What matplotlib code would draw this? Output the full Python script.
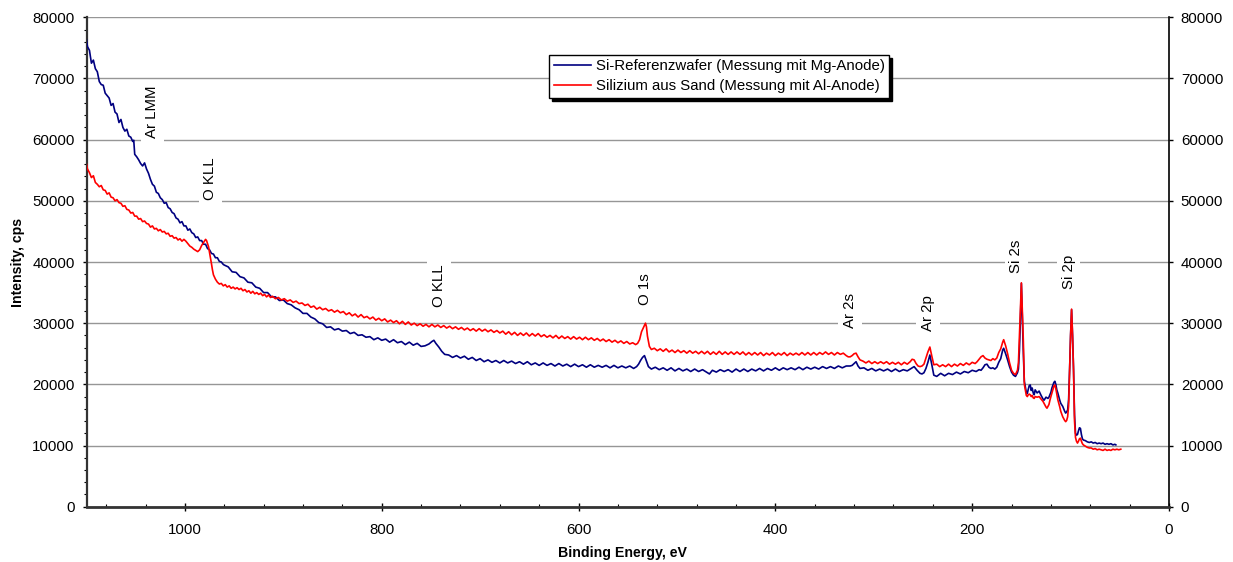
import matplotlib
matplotlib.use("Agg")
import matplotlib.pyplot as plt
from matplotlib.ticker import MultipleLocator

plt.rcParams['font.family'] = ['Liberation Sans', 'DejaVu Sans']

# ---------------- Si-Referenzwafer (Mg anode): binding energy (eV) / intensity (cps)
blue_ev_a = [1100, 1099, 1097, 1095, 1093, 1091, 1089, 1087, 1085, 1083, 1081, 1079, 1077, 1075,
             1073, 1071, 1069, 1067, 1065, 1063, 1061, 1059, 1057, 1055, 1053, 1052, 1051, 1049,
             1047, 1045, 1043, 1041, 1039, 1037, 1035, 1033, 1031, 1029, 1027, 1025, 1023, 1021,
             1019, 1017, 1015, 1013, 1011, 1009, 1007, 1005, 1003, 1001, 999, 997, 995, 993, 991,
             989, 987, 985, 983, 981, 979, 977, 975, 973, 971, 969, 967, 965, 963, 961]
blue_cps_a = [76300, 75200, 74600, 72500, 73000, 71600, 71100, 69500, 69000, 68900, 67600, 67200,
              66800, 65600, 65900, 64500, 64200, 62800, 63300, 62000, 61400, 61700, 60600, 60400,
              59700, 59900, 57600, 57200, 56700, 56100, 55700, 56200, 55200, 54500, 53500, 52700,
              52400, 51400, 51200, 50500, 50200, 49600, 49700, 48900, 48700, 48100, 47900, 47200,
              47000, 46400, 46600, 45900, 45900, 45200, 45400, 44800, 44600, 44000, 44100, 43500,
              43500, 42900, 42900, 42200, 42000, 41400, 41300, 40700, 40700, 40100, 40000, 39600]

blue_ev_b = [960, 956, 952, 948, 944, 940, 936, 932, 928, 924, 920, 916, 912, 908, 904, 900, 896,
             892, 888, 884, 880, 876, 872, 868, 864, 860, 856, 852, 848, 844, 840, 836, 832, 828,
             824, 820, 816, 812, 808, 804, 800, 796, 792, 788, 784, 780, 776, 772, 768, 764, 760,
             756, 752, 749, 747, 745, 742, 739, 736, 732, 728, 724, 720, 716, 712, 708, 704, 700,
             696, 692, 688, 684, 680, 676, 672, 668, 664, 660, 656, 652, 648, 644, 640, 636, 632,
             628, 624, 620, 616, 612, 608, 604, 600, 596, 592, 588, 584, 580, 576, 572, 568, 564,
             560, 556, 552, 548, 544]
blue_cps_b = [39500, 39200, 38400, 38300, 37600, 37400, 36700, 36600, 35900, 35700, 35000, 35000,
              34300, 34300, 33700, 33800, 33200, 33000, 32500, 32200, 31600, 31600, 31000, 30700,
              30100, 29900, 29300, 29400, 28900, 29100, 28700, 28800, 28300, 28500, 28000, 28100,
              27700, 27800, 27300, 27600, 27200, 27400, 26900, 27300, 26800, 27000, 26500, 26900,
              26400, 26700, 26200, 26300, 26600, 27000, 27200, 26700, 26100, 25400, 24900, 24800,
              24400, 24700, 24300, 24600, 24100, 24400, 23900, 24200, 23700, 24000, 23600, 23900,
              23500, 23900, 23500, 23800, 23400, 23700, 23300, 23700, 23200, 23500, 23100, 23500,
              23100, 23400, 23000, 23400, 23000, 23300, 22900, 23300, 22900, 23200, 22800, 23200,
              22800, 23100, 22800, 23100, 22700, 23100, 22700, 23000, 22700, 23000, 22600]

blue_ev_c = [541, 539, 537, 535, 533, 531, 529, 526, 522, 518, 514, 510, 506, 502, 498, 494, 490,
             486, 482, 478, 474, 470, 467, 464, 460, 456, 452, 448, 444, 440, 436, 432, 428, 424,
             420, 416, 412, 408, 404, 400, 396, 392, 388, 384, 380, 376, 372, 368, 364, 360, 356,
             352, 348, 344, 340, 336, 332, 328, 324, 322, 320, 318, 316, 314, 310, 306, 302, 298,
             294, 290, 286, 282, 278, 274, 270, 266, 262, 259, 256, 253, 251, 249, 247, 245, 243,
             241, 239, 236, 232, 228, 224, 220, 216, 212, 208, 204, 200]
blue_cps_c = [22900, 23300, 23900, 24400, 24700, 23800, 22900, 22500, 22800, 22400, 22700, 22300,
              22700, 22200, 22600, 22200, 22500, 22100, 22500, 22100, 22400, 22000, 21700, 22300,
              22000, 22400, 22100, 22400, 22000, 22500, 22100, 22500, 22100, 22500, 22200, 22600,
              22200, 22600, 22300, 22700, 22300, 22700, 22400, 22700, 22400, 22800, 22400, 22800,
              22500, 22800, 22500, 22900, 22600, 22900, 22600, 23000, 22700, 23000, 23000, 23100,
              23400, 23700, 23000, 22600, 22700, 22300, 22600, 22200, 22500, 22200, 22500, 22100,
              22500, 22100, 22400, 22200, 22600, 22900, 22300, 21800, 21700, 21900, 22600, 23600,
              24800, 23200, 21500, 21300, 21800, 21400, 21800, 21600, 22000, 21700, 22100, 21900,
              22300]

blue_ev_d = [196, 193, 191, 189, 187, 185, 183, 181, 179, 177, 175, 173, 171, 169, 168, 166, 164,
             162, 160, 158, 156, 154, 153, 152, 151, 150, 149, 148, 147, 146, 145, 144, 143, 142,
             141, 140, 139, 138, 137, 136, 134, 132, 130, 128, 127, 125, 123, 122, 120, 119, 117,
             116, 115, 114, 113, 111, 110, 108, 106, 105, 104, 103, 102, 101, 100, 99, 98, 97, 96,
             95, 94, 93, 92, 91, 90, 89, 88, 87, 85, 83, 81, 79, 77, 75, 73, 71, 69, 67, 65, 63,
             61, 59, 57, 55, 54]
blue_cps_d = [22100, 22400, 22300, 22700, 23200, 23300, 22800, 22600, 22700, 22500, 22800, 23600,
              24200, 25600, 25900, 25000, 24000, 22900, 22000, 21500, 21300, 21900, 22500, 25500,
              30500, 36500, 30500, 25000, 20500, 19600, 18700, 18500, 19200, 19800, 19900, 19000,
              19400, 18600, 18300, 19100, 18600, 18900, 18200, 17600, 17400, 17900, 17700, 17900,
              18700, 19400, 20300, 20500, 20000, 19100, 18600, 17400, 16900, 16400, 15600, 15300,
              15500, 15800, 17500, 22400, 28000, 32200, 28000, 22400, 15000, 12000, 11700, 11800,
              12400, 12900, 12800, 11800, 11100, 10900, 10800, 10600, 10500, 10600, 10400, 10500,
              10300, 10400, 10300, 10400, 10200, 10300, 10200, 10300, 10100, 10200, 10100]

# ---------------- Silizium aus Sand (Al anode)
red_ev_a = [1100, 1099, 1097, 1095, 1093, 1091, 1089, 1087, 1085, 1083, 1081, 1079, 1077, 1075,
            1073, 1071, 1069, 1067, 1065, 1063, 1061, 1059, 1057, 1055, 1053, 1051, 1049, 1047,
            1045, 1043, 1041, 1039, 1037, 1035, 1033, 1031, 1029, 1027, 1025, 1023, 1021, 1019,
            1017, 1015, 1013, 1011, 1009, 1007, 1005, 1003, 1001, 999, 997, 995, 993, 991, 989,
            987, 985, 983, 981, 979, 978, 976, 975, 974, 973, 972, 971, 969, 967, 965, 963, 961,
            959, 957, 955, 953, 951, 949, 947, 945, 943, 941, 939, 937, 935, 933, 931, 929, 927,
            925, 923, 921, 919, 917, 915, 913, 911]
red_cps_a = [56000, 55200, 54600, 53800, 54100, 53000, 52700, 52300, 52500, 51800, 51700, 51100,
             51300, 50600, 50500, 50000, 50200, 49700, 49600, 49100, 49200, 48600, 48500, 48000,
             48100, 47500, 47500, 47000, 47100, 46600, 46700, 46300, 46200, 45700, 45900, 45400,
             45500, 45100, 45300, 44900, 45000, 44600, 44700, 44200, 44300, 43900, 44000, 43600,
             43800, 43400, 43700, 43400, 43000, 42600, 42400, 42100, 41900, 41700, 42000, 42700,
             43200, 43700, 43500, 42500, 41600, 40800, 39700, 38700, 37900, 37200, 36700, 36400,
             36500, 36100, 36300, 35900, 36100, 35700, 35900, 35600, 35800, 35500, 35700, 35300,
             35500, 35100, 35300, 34900, 35200, 34800, 35000, 34700, 34900, 34500, 34700, 34300,
             34600, 34200, 34400]

red_ev_b = [908, 905, 902, 899, 896, 893, 890, 887, 884, 881, 878, 875, 872, 869, 866, 863, 860,
            857, 854, 851, 848, 845, 842, 839, 836, 833, 830, 827, 824, 821, 818, 815, 812, 809,
            806, 803, 800, 797, 794, 791, 788, 785, 782, 779, 776, 773, 770, 767, 764, 761, 758,
            755, 752, 749, 746, 743, 740, 737, 734, 731, 728, 725, 722, 719, 716, 713, 710, 707,
            704, 701, 698, 695, 692, 689, 686, 683, 680, 677, 674, 671, 668, 665, 662, 659, 656,
            653, 650, 647, 644, 641, 638, 635, 632, 629, 626, 623, 620, 617, 614, 611, 608, 605,
            602, 599, 596, 593, 590, 587, 584, 581, 578, 575, 572, 569, 566, 563, 560, 557, 554,
            551, 548, 545, 542]
red_cps_b = [34000, 34200, 33800, 34000, 33600, 33800, 33400, 33600, 33200, 33300, 32900, 33100,
             32600, 32800, 32300, 32600, 32200, 32400, 32000, 32200, 31800, 32100, 31700, 31900,
             31400, 31700, 31200, 31500, 31000, 31400, 30900, 31100, 30700, 31000, 30500, 30800,
             30400, 30700, 30200, 30500, 30100, 30400, 29900, 30300, 29800, 30200, 29700, 30000,
             29600, 29900, 29500, 29800, 29400, 29800, 29400, 29700, 29300, 29600, 29200, 29500,
             29100, 29400, 29000, 29300, 28900, 29200, 28800, 29100, 28700, 29100, 28700, 29000,
             28600, 28900, 28500, 28800, 28400, 28700, 28200, 28600, 28100, 28500, 28000, 28400,
             28000, 28400, 27900, 28300, 27900, 28300, 27800, 28100, 27700, 28000, 27600, 28000,
             27500, 27900, 27500, 27800, 27400, 27800, 27400, 27700, 27300, 27700, 27300, 27600,
             27200, 27500, 27100, 27400, 27000, 27300, 26900, 27200, 26800, 27100, 26700, 27000,
             26600, 26800, 26500]

red_ev_c = [540, 538, 536, 534, 532, 531, 530, 528, 526, 523, 520, 517, 514, 511, 508, 505, 502,
            499, 496, 493, 490, 487, 484, 481, 478, 475, 472, 469, 466, 463, 460, 457, 454, 451,
            448, 445, 442, 439, 436, 433, 430, 427, 424, 421, 418, 415, 412, 409, 406, 403, 400,
            397, 394, 391, 388, 385, 382, 379, 376, 373, 370, 367, 364, 361, 358, 355, 352, 349,
            346, 343, 340, 337, 334, 331, 328, 326, 324, 322, 320, 318, 316, 314, 311, 308, 305,
            302, 299, 296, 293, 290, 287, 284, 281, 278, 275, 272, 269, 266, 263, 261, 259, 257,
            255, 253, 251, 249, 247, 245, 243, 241, 239, 236, 233, 230, 227, 224, 221, 218, 215,
            212, 209, 206, 203, 200, 197]
red_cps_c = [26700, 27300, 28600, 29300, 30000, 29400, 27900, 26200, 25700, 25900, 25500, 25800,
             25400, 25800, 25300, 25600, 25200, 25600, 25200, 25500, 25100, 25500, 25100, 25400,
             25000, 25400, 25000, 25400, 24900, 25300, 24900, 25400, 24900, 25300, 24900, 25300,
             24900, 25300, 24900, 25300, 24800, 25200, 24800, 25200, 24800, 25200, 24700, 25100,
             24800, 25200, 24700, 25100, 24800, 25200, 24700, 25100, 24800, 25100, 24800, 25200,
             24800, 25200, 24800, 25200, 24800, 25200, 24900, 25300, 24900, 25200, 24800, 25200,
             24900, 25100, 24700, 24500, 24500, 24700, 25000, 25100, 24500, 24000, 23800, 23500,
             23800, 23400, 23700, 23400, 23700, 23400, 23700, 23300, 23600, 23300, 23600, 23200,
             23600, 23300, 23700, 24100, 24000, 23400, 23000, 22900, 23000, 23300, 24300, 25300,
             26100, 24600, 23200, 23300, 22900, 23200, 22900, 23300, 22900, 23300, 23000, 23400,
             23100, 23500, 23200, 23600, 23400]

red_ev_d = [195, 193, 191, 189, 187, 185, 183, 181, 179, 177, 175, 173, 171, 169, 168, 166, 164,
            162, 160, 158, 156, 154, 153, 152, 151, 150, 149, 148, 147, 146, 145, 144, 143, 142,
            141, 140, 139, 138, 137, 136, 134, 132, 130, 128, 127, 125, 124, 122, 121, 120, 118,
            117, 116, 115, 114, 113, 111, 110, 108, 106, 105, 104, 103, 102, 101, 100, 99, 98, 97,
            96, 95, 94, 93, 92, 91, 90, 89, 88, 87, 85, 83, 81, 79, 77, 75, 73, 71, 69, 67, 65,
            63, 61, 59, 57, 55, 53, 51, 49]
red_cps_d = [23700, 24100, 24500, 24700, 24300, 24100, 24000, 23900, 24200, 24000, 24300, 25200,
             25800, 26900, 27300, 26300, 25000, 23500, 22300, 21800, 21600, 22300, 23500, 28000,
             33000, 36600, 32000, 27000, 20000, 19100, 18200, 18000, 18300, 18400, 18300, 18000,
             18200, 17800, 17700, 18000, 17900, 18000, 17600, 17200, 16900, 16300, 16100, 16700,
             17400, 18000, 19100, 19700, 19900, 19300, 18400, 17500, 16300, 15600, 14700, 14100,
             13900, 14100, 14700, 16500, 22400, 28000, 32300, 28000, 22400, 14000, 11300, 10700,
             10400, 10700, 11100, 11200, 10700, 10300, 10100, 9900, 9700, 9600, 9600, 9400, 9500,
             9300, 9400, 9300, 9200, 9400, 9200, 9300, 9200, 9400, 9300, 9400, 9300, 9400]

blue_ev = blue_ev_a + blue_ev_b + blue_ev_c + blue_ev_d
blue_cps = blue_cps_a + blue_cps_b + blue_cps_c + blue_cps_d
red_ev = red_ev_a + red_ev_b + red_ev_c + red_ev_d
red_cps = red_cps_a + red_cps_b + red_cps_c + red_cps_d

series_labels = ["Si-Referenzwafer (Messung mit Mg-Anode)", "Silizium aus Sand (Messung mit Al-Anode)"]

peak_labels = ["Ar LMM", "O KLL", "O KLL", "O 1s", "Ar 2s", "Ar 2p", "Si 2s", "Si 2p"]
peak_ev = [1033, 974, 742, 532, 324, 245, 155, 102]
peak_label_y = [64500, 53700, 36100, 35600, 32150, 31660, 40980, 38410]

x_ticks = [1000, 800, 600, 400, 200, 0]
y_ticks = [0, 10000, 20000, 30000, 40000, 50000, 60000, 70000, 80000]

fs = 10.8
fig = plt.figure(figsize=(12.33, 5.62), dpi=100)
ax = fig.add_axes([86.5 / 1233, 1 - 506.7 / 562, (1169 - 86.5) / 1233, 489.4 / 562])

ax.plot(blue_ev, blue_cps, color='#000080', lw=1.2, zorder=4, label=series_labels[0])
ax.plot(red_ev, red_cps, color='#FF0000', lw=1.2, zorder=4, label=series_labels[1])

ax.set_xlim(1100, 0)
ax.set_ylim(0, 80000)
ax.set_xticks(x_ticks)
ax.set_yticks(y_ticks)
ax.xaxis.set_minor_locator(MultipleLocator(40))
ax.yaxis.set_minor_locator(MultipleLocator(2000))

ax.grid(axis='y', which='major', color='#969696', lw=1.0, zorder=1)
ax.set_axisbelow(True)

ax.spines['top'].set_visible(False)
ax.spines['left'].set_color('#333333')
ax.spines['left'].set_linewidth(1.6)
ax.spines['bottom'].set_color('#333333')
ax.spines['bottom'].set_linewidth(2.0)
ax.spines['right'].set_color('#000000')
ax.spines['right'].set_linewidth(1.2)

ax.tick_params(axis='x', which='major', direction='inout', length=6, width=1, pad=8.5,
               labelsize=fs, colors='black')
ax.tick_params(axis='x', which='minor', direction='in', length=2.5, width=0.8)
ax.tick_params(axis='y', which='major', direction='out', length=3, width=1, pad=5.5,
               labelsize=fs, right=True, labelright=True)
ax.tick_params(axis='y', which='minor', direction='out', length=2.5, width=0.8, right=False)

ax.set_xlabel("Binding Energy, eV", fontsize=10.2, fontweight='bold')
ax.xaxis.set_label_coords(0.495, -0.08)
ax.set_ylabel("Intensity, cps", fontsize=10.2, fontweight='bold')
ax.yaxis.set_label_coords(-0.057, 0.5)

for lab, xe, ye in zip(peak_labels, peak_ev, peak_label_y):
    ax.text(xe, ye, lab, rotation=90, ha='center', va='center', fontsize=fs, zorder=3,
            bbox=dict(facecolor='white', edgecolor='none', pad=3.5))

leg = ax.legend(loc='upper left', bbox_to_anchor=((549 - 86.5) / 1082.5, (506.7 - 55) / 489.4),
                borderaxespad=0, fontsize=fs, frameon=True, fancybox=False, framealpha=1,
                edgecolor='black', handlelength=2.5, handletextpad=0.3, borderpad=0.3,
                labelspacing=0.4,
                shadow={'facecolor': 'black', 'edgecolor': 'black', 'alpha': 1})
leg.get_frame().set_linewidth(1.0)
leg.set_zorder(6)

fig.savefig("out.png", dpi=100)
